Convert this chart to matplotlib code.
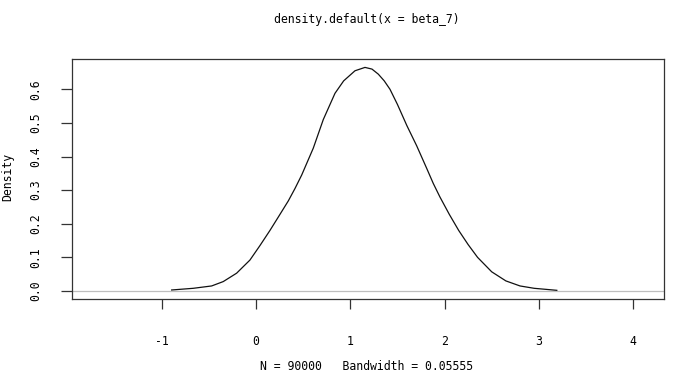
import matplotlib
matplotlib.use('Agg')
import matplotlib.pyplot as plt

# density curve
x_vals = [-0.894, -0.665, -0.47, -0.347, -0.205, -0.064, 0.042, 0.148, 0.237, 0.343,
          0.414, 0.485, 0.608, 0.714, 0.838, 0.93, 1.05, 1.156, 1.23, 1.297,
          1.36, 1.421, 1.5, 1.6, 1.704, 1.81, 1.88, 1.95, 2.05, 2.15,
          2.25, 2.35, 2.5, 2.65, 2.8, 2.95, 3.19]
y_vals = [0.003, 0.008, 0.015, 0.028, 0.053, 0.092, 0.135, 0.180, 0.220, 0.268,
          0.305, 0.345, 0.425, 0.510, 0.588, 0.625, 0.655, 0.665, 0.660, 0.645,
          0.625, 0.600, 0.555, 0.492, 0.432, 0.365, 0.320, 0.280, 0.228, 0.180,
          0.138, 0.100, 0.057, 0.030, 0.015, 0.008, 0.002]

x_ticks = [-1, 0, 1, 2, 3, 4]
y_ticks = [0.0, 0.1, 0.2, 0.3, 0.4, 0.5, 0.6]

title = 'density.default(x = beta_7)'
sub = 'N = 90000   Bandwidth = 0.05555'

plt.rcParams['font.family'] = ['DejaVu Sans Mono']
fs = 8.3

fig = plt.figure(figsize=(6.8, 3.79), dpi=100)
ax = fig.add_axes([71.7 / 680, 79.7 / 379, 592.6 / 680, 240.3 / 379])

ax.axhline(0, color='#bebebe', linewidth=0.9)
ax.plot(x_vals, y_vals, color='#111111', linewidth=0.9)

ax.set_xlim(-1.954, 4.33)
ax.set_ylim(-0.0247, 0.690)

ax.set_xticks(x_ticks)
ax.set_xticklabels([str(t) for t in x_ticks])
ax.set_yticks(y_ticks)
ax.set_yticklabels([f'{t:.1f}' for t in y_ticks], rotation=90, va='center')

ax.tick_params(axis='x', length=7, width=0.9, color='#333333', pad=19, labelsize=fs)
ax.tick_params(axis='y', length=8, width=0.9, color='#333333', pad=13, labelsize=fs)
for s in ax.spines.values():
    s.set_color('#333333')
    s.set_linewidth(0.9)

fig.text(367 / 680, 1 - 19 / 379, title, ha='center', va='center', fontsize=fs)
fig.text(367 / 680, 1 - 367 / 379, sub, ha='center', va='center', fontsize=fs)
fig.text(8 / 680, 1 - 177 / 379, 'Density', ha='center', va='center', rotation=90, fontsize=fs)

plt.savefig('out.png', dpi=100)
plt.close(fig)
